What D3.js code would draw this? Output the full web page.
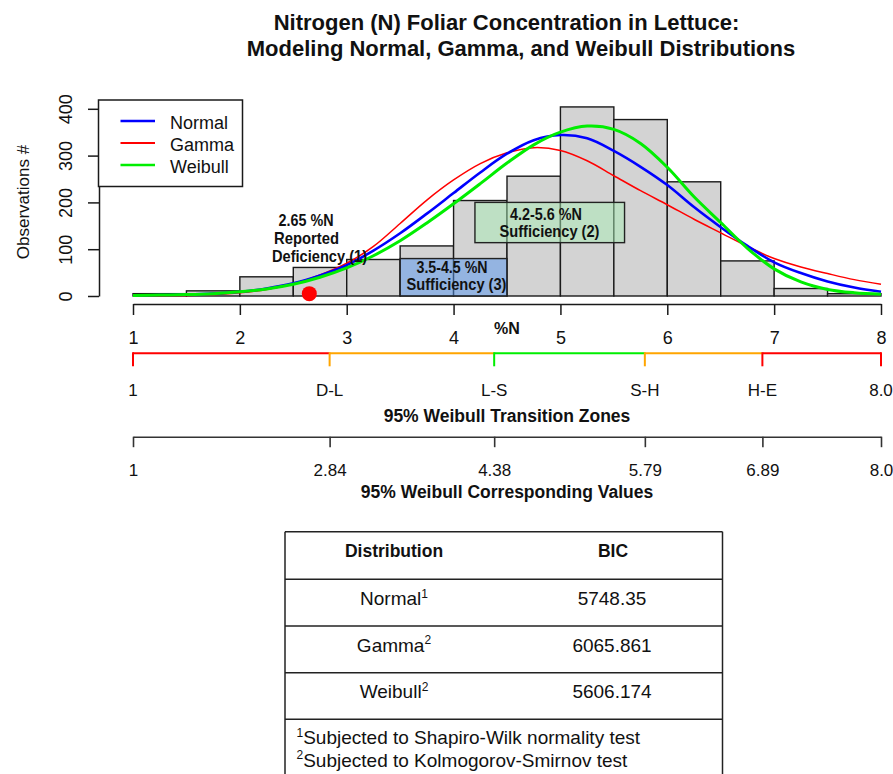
<!DOCTYPE html>
<html>
<head>
<meta charset="utf-8">
<script src="https://cdn.jsdelivr.net/npm/d3@7"></script>
<style>
  html, body { margin: 0; padding: 0; background: #fff; }
  svg { display: block; font-family: "Liberation Sans", Arial, Helvetica, sans-serif; }
</style>
</head>
<body>
<svg id="chart" width="893" height="774"></svg>
<script>
// ---- Histogram of foliar N (%N), 0.5 %N bins ----
const binStarts = [1, 1.5, 2, 2.5, 3, 3.5, 4, 4.5, 5, 5.5, 6, 6.5, 7, 7.5];
const binCounts = [5, 11, 41, 61, 78, 107, 204, 256, 404, 377, 244, 75, 16, 5];
const binWidth = 0.5;

// ---- Fitted densities, scaled to observation counts ----
const curveN = [1, 1.25, 1.5, 1.75, 2, 2.25, 2.5, 2.75, 3, 3.25, 3.5, 3.75, 4, 4.25, 4.5,
                4.75, 5, 5.25, 5.5, 5.75, 6, 6.25, 6.5, 6.75, 7, 7.25, 7.5, 7.75, 8];
const normalFit  = [1, 2, 3, 5, 9, 16, 27, 44, 66, 97, 134, 176, 220, 264, 304,
                    333, 344, 337, 310, 276, 237, 190, 147, 107, 72, 49, 31, 18, 9];
const gammaFit   = [0, 0, 1, 3, 7, 14, 26, 45, 70, 106, 155, 205, 248, 283, 306,
                    317, 311, 289, 257, 225, 195, 164, 135, 106, 80, 62, 48, 35, 25];
const weibullFit = [1, 2, 3, 5, 9, 15, 25, 40, 60, 86, 118, 156, 197, 240, 284,
                    323, 350, 363, 356, 326, 275, 212, 157, 102, 58, 30, 14, 7, 4];

const seriesNames = ["Normal", "Gamma", "Weibull"];

// ---- Reported deficiency point ----
const deficiencyN = 2.65;
const deficiencyCount = 5;
const deficiencyLines = ["2.65 %N", "Reported", "Deficiency (1)"];

// ---- Sufficiency ranges (x from-to, count from-to) ----
const suffLow  = [3.5, 4.2];
const suffHigh = [4.5, 5.6];
const suffBottom = [0, 114];
const suffTop    = [80, 200];
const suffLines  = [["3.5-4.5 %N", "Sufficiency (3)"], ["4.2-5.6 %N", "Sufficiency (2)"]];

// ---- 95% Weibull transition zones ----
const zoneBreaks = [1, 2.84, 4.38, 5.79, 6.89, 8.0];
const zoneLabels = ["1", "D-L", "L-S", "S-H", "H-E", "8.0"];
const zoneValueLabels = ["1", "2.84", "4.38", "5.79", "6.89", "8.0"];

// ---- BIC table ----
const distributions = ["Normal", "Gamma", "Weibull"];
const bicValues = [5748.35, 6065.861, 5606.174];
const testMarks = ["1", "2", "2"];
const footnotes = ["Subjected to Shapiro-Wilk normality test", "Subjected to Kolmogorov-Smirnov test"];

// ---------------------------------------------------------------
const svg = d3.select("#chart");
const ink = "#1a1a1a";

const x = d3.scaleLinear().domain([1, 8]).range([133, 881]);
const y = d3.scaleLinear().domain([0, 400]).range([296, 108.8]);

const seriesColor = { Normal: "#0000ff", Gamma: "#ff0000", Weibull: "#00ee00" };
const seriesWidth = { Normal: 2.6, Gamma: 1.5, Weibull: 3 };
const seriesData = { Normal: normalFit, Gamma: gammaFit, Weibull: weibullFit };

// Title
const title = svg.append("g").attr("font-weight", "bold").attr("font-size", 22)
  .attr("text-anchor", "middle").attr("fill", "#111");
title.append("text").attr("x", 506.5).attr("y", 30).text("Nitrogen (N) Foliar Concentration in Lettuce:");
title.append("text").attr("x", 521).attr("y", 55.5).text("Modeling Normal, Gamma, and Weibull Distributions");

// Histogram bars
svg.append("g").selectAll("rect").data(binStarts).join("rect")
  .attr("x", d => x(d))
  .attr("y", (d, i) => y(binCounts[i]))
  .attr("width", d => x(d + binWidth) - x(d))
  .attr("height", (d, i) => y(0) - y(binCounts[i]))
  .attr("fill", "#d3d3d3").attr("stroke", ink).attr("stroke-width", 1.4);

// Sufficiency boxes
const boxFill = ["rgba(85,150,240,0.5)", "rgba(170,237,181,0.5)"];
svg.append("g").selectAll("rect").data(suffLow).join("rect")
  .attr("x", d => x(d))
  .attr("y", (d, i) => y(suffTop[i]))
  .attr("width", (d, i) => x(suffHigh[i]) - x(d))
  .attr("height", (d, i) => y(suffBottom[i]) - y(suffTop[i]))
  .attr("fill", (d, i) => boxFill[i])
  .attr("stroke", "#222").attr("stroke-width", 1.4);

// Fitted curves
const line = d3.line().x((d, i) => x(curveN[i])).y(d => y(d)).curve(d3.curveCatmullRom.alpha(0.5));
["Gamma", "Normal", "Weibull"].forEach(name => {
  svg.append("path").datum(seriesData[name])
    .attr("d", line)
    .attr("fill", "none")
    .attr("stroke", seriesColor[name])
    .attr("stroke-width", seriesWidth[name])
    .attr("stroke-linejoin", "round");
});

// Condensed bold annotation text (centred, squeezed to a set width)
const ann = svg.append("g").attr("font-weight", "bold").attr("fill", "#111")
  .attr("text-anchor", "middle").attr("font-size", 16.5);
function condensed(t, cx, by, w) {
  ann.append("text").attr("x", cx).attr("y", by)
    .attr("textLength", w).attr("lengthAdjust", "spacingAndGlyphs").text(t);
}
condensed(deficiencyLines[0], 306, 226, 55);
condensed(deficiencyLines[1], 306.5, 243.5, 65);
condensed(deficiencyLines[2], 319.5, 261.5, 95);
condensed(suffLines[0][0], 452, 273.3, 71);
condensed(suffLines[0][1], 456.5, 290, 100);
condensed(suffLines[1][0], 546, 220, 72);
condensed(suffLines[1][1], 549.5, 236.7, 100);

// Deficiency marker
svg.append("circle").attr("cx", x(deficiencyN)).attr("cy", y(deficiencyCount))
  .attr("r", 7.5).attr("fill", "#ff0000");

// Y axis
const yAxis = svg.append("g").attr("transform", "translate(99,0)")
  .call(d3.axisLeft(y).tickValues([0, 100, 200, 300, 400]).tickSize(11).tickSizeOuter(0));
yAxis.select(".domain").attr("stroke", ink).attr("stroke-width", 1.5);
yAxis.selectAll(".tick line").attr("stroke", ink).attr("stroke-width", 1.5);
yAxis.selectAll(".tick text")
  .attr("x", 0).attr("dy", 0).attr("text-anchor", "middle")
  .attr("transform", "translate(-27,0) rotate(-90)")
  .attr("font-size", 18).attr("font-family", "Liberation Sans, Arial, sans-serif").attr("fill", "#111");

svg.append("text").attr("transform", "translate(29,202) rotate(-90)")
  .attr("text-anchor", "middle").attr("font-size", 17).attr("fill", "#111")
  .text("Observations #");

// X axis (%N)
const xAxis = svg.append("g").attr("transform", "translate(0,304)")
  .call(d3.axisBottom(x).tickValues(d3.range(1, 9)).tickSize(11).tickSizeOuter(0).tickPadding(16).tickFormat(d3.format("d")));
xAxis.select(".domain").attr("stroke", ink).attr("stroke-width", 1.5);
xAxis.selectAll(".tick line").attr("stroke", ink).attr("stroke-width", 1.5);
xAxis.selectAll(".tick text").attr("font-size", 18).attr("font-family", "Liberation Sans, Arial, sans-serif").attr("fill", "#111");

svg.append("text").attr("x", 507).attr("y", 333.5).attr("text-anchor", "middle")
  .attr("font-weight", "bold").attr("font-size", 16).attr("fill", "#111").text("%N");

// Legend
const legend = svg.append("g");
legend.append("rect").attr("x", 98.5).attr("y", 100).attr("width", 144).attr("height", 86.5)
  .attr("fill", "#fff").attr("stroke", ink).attr("stroke-width", 1.5);
seriesNames.forEach((name, i) => {
  const ly = 121 + i * 22;
  legend.append("line").attr("x1", 120.5).attr("x2", 155).attr("y1", ly).attr("y2", ly)
    .attr("stroke", seriesColor[name]).attr("stroke-width", name === "Gamma" ? 2 : 2.6);
  legend.append("text").attr("x", 170).attr("y", ly + 7.5).attr("font-size", 18)
    .attr("fill", "#111").text(name);
});

// Transition zones bar
const zoneColors = ["#ff0000", "#ffa500", "#00ee00", "#ffa500", "#ff0000"];
const zoneTickColors = ["#ff0000", "#ffa500", "#00ee00", "#ffa500", "#ff0000", "#ff0000"];
const zy = 353.3;
const zones = svg.append("g");
zoneColors.forEach((c, i) => {
  zones.append("line").attr("x1", x(zoneBreaks[i])).attr("x2", x(zoneBreaks[i + 1]))
    .attr("y1", zy).attr("y2", zy).attr("stroke", c).attr("stroke-width", 2);
});
zoneBreaks.forEach((b, i) => {
  zones.append("line").attr("x1", x(b)).attr("x2", x(b)).attr("y1", zy - 1).attr("y2", zy + 13)
    .attr("stroke", zoneTickColors[i]).attr("stroke-width", 2);
  zones.append("text").attr("x", x(b)).attr("y", 396).attr("text-anchor", "middle")
    .attr("font-size", 17).attr("fill", "#111").text(zoneLabels[i]);
});
svg.append("text").attr("x", 507).attr("y", 421.5).attr("text-anchor", "middle")
  .attr("font-weight", "bold").attr("font-size", 17.5).attr("fill", "#111").text("95% Weibull Transition Zones");

// Corresponding values axis
const vAxis = svg.append("g").attr("transform", "translate(0,436.7)")
  .call(d3.axisBottom(x).tickValues(zoneBreaks).tickSize(10.5).tickSizeOuter(0).tickPadding(17)
    .tickFormat((d, i) => zoneValueLabels[i]));
vAxis.select(".domain").attr("stroke", "#333").attr("stroke-width", 1.6);
vAxis.selectAll(".tick line").attr("stroke", "#333").attr("stroke-width", 1.6);
vAxis.selectAll(".tick text").attr("font-size", 17).attr("font-family", "Liberation Sans, Arial, sans-serif").attr("fill", "#111");
svg.append("text").attr("x", 507).attr("y", 498).attr("text-anchor", "middle")
  .attr("font-weight", "bold").attr("font-size", 17.5).attr("fill", "#111").text("95% Weibull Corresponding Values");

// BIC table
const tbl = svg.append("g");
const tL = 285, tR = 722.5, tTop = 531.7;
const rowLines = [tTop, 579.3, 626, 672.7, 719.3];
rowLines.forEach(ry => {
  tbl.append("line").attr("x1", tL).attr("x2", tR).attr("y1", ry).attr("y2", ry)
    .attr("stroke", "#222").attr("stroke-width", 1.5);
});
[tL, tR].forEach(cx => {
  tbl.append("line").attr("x1", cx).attr("x2", cx).attr("y1", tTop).attr("y2", 774)
    .attr("stroke", "#222").attr("stroke-width", 1.5);
});
const col1 = 394, col2 = 612;
tbl.append("text").attr("x", col1).attr("y", 557).attr("text-anchor", "middle")
  .attr("font-weight", "bold").attr("font-size", 17.5).attr("fill", "#111").text("Distribution");
tbl.append("text").attr("x", col2 + 1).attr("y", 557).attr("text-anchor", "middle")
  .attr("font-weight", "bold").attr("font-size", 17.5).attr("fill", "#111").text("BIC");
distributions.forEach((d, i) => {
  const by = 605 + i * 46.5;
  const t = tbl.append("text").attr("x", col1).attr("y", by).attr("text-anchor", "middle")
    .attr("font-size", 19).attr("fill", "#111");
  t.append("tspan").text(d);
  t.append("tspan").attr("font-size", 12).attr("dy", -7.5).text(testMarks[i]);
  tbl.append("text").attr("x", col2).attr("y", by).attr("text-anchor", "middle")
    .attr("font-size", 19).attr("fill", "#111").text(String(bicValues[i]));
});
footnotes.forEach((f, i) => {
  const t = tbl.append("text").attr("x", 296.5).attr("y", 744 + i * 22.7)
    .attr("font-size", 19).attr("fill", "#111");
  t.append("tspan").attr("font-size", 12).attr("dy", -7.5).text(String(i + 1));
  t.append("tspan").attr("dy", 7.5).text(f);
});
</script>
</body>
</html>
